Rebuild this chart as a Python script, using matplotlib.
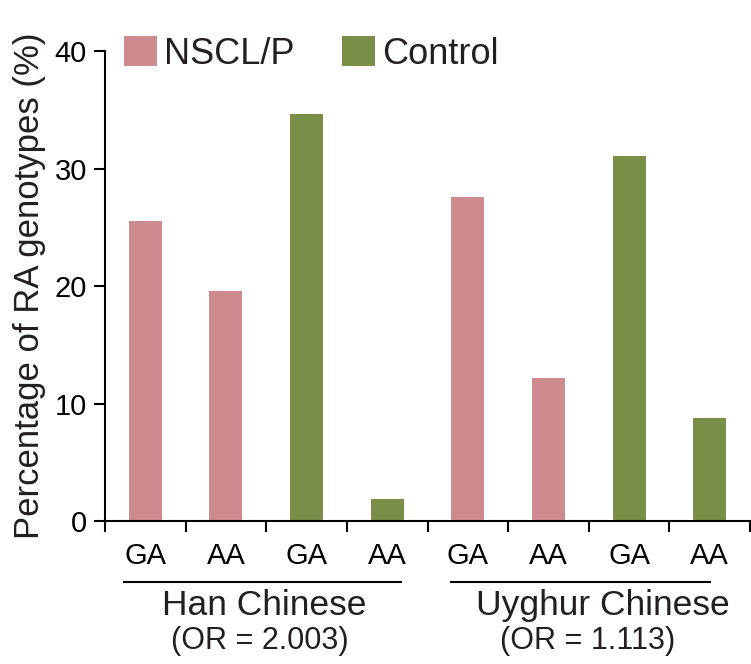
import matplotlib
matplotlib.use("Agg")
import matplotlib.pyplot as plt
from matplotlib.patches import Patch
import matplotlib.transforms as mtransforms

plt.rcParams['font.family'] = ['Liberation Sans', 'DejaVu Sans']

genotypes = ["GA", "AA", "GA", "AA", "GA", "AA", "GA", "AA"]
values = [25.5, 19.6, 34.6, 1.9, 27.6, 12.2, 31.1, 8.8]
groups = ["NSCL/P", "NSCL/P", "Control", "Control", "NSCL/P", "NSCL/P", "Control", "Control"]
populations = ["Han Chinese", "Uyghur Chinese"]
odds_ratios = ["(OR = 2.003)", "(OR = 1.113)"]

colors = {"NSCL/P": "#CD8B8F", "Control": "#798F48"}
txt = "#231f20"

fig = plt.figure(figsize=(7.51, 6.64), dpi=100)
ax = fig.add_axes([105/751, 1-521.3/664, 645/751, 470.3/664])

x = list(range(len(values)))
ax.bar(x, values, width=0.41, color=[colors[g] for g in groups], zorder=2)

ax.set_xlim(-0.5, 7.5)
ax.set_ylim(0, 40)
ax.set_yticks([0, 10, 20, 30, 40])
ax.set_xticks([i + 0.5 for i in range(-1, 8)])
ax.set_xticklabels([])
ax.set_xticks(x, minor=True)
ax.set_xticklabels(genotypes, minor=True)
ax.tick_params(axis='x', which='minor', length=0, pad=15, labelsize=21, labelcolor="black")
ax.tick_params(axis='x', which='major', length=8, width=1.5, direction='out')
ax.tick_params(axis='y', length=8, width=1.5, direction='out', pad=5, labelsize=21, labelcolor="black")
for s in ['top', 'right']:
    ax.spines[s].set_visible(False)
for s in ['left', 'bottom']:
    ax.spines[s].set_linewidth(1.5)

ax.set_ylabel("Percentage of RA genotypes (%)", fontsize=25, color=txt, labelpad=6)

trans = mtransforms.blended_transform_factory(ax.transData, ax.transAxes)
line_spans = [(-0.26, 3.17), (3.79, 7.0)]
label_x = [1.47, 5.67]
or_x = [1.42, 5.49]
for (x0, x1), lx, ox, pop, orr in zip(line_spans, label_x, or_x, populations, odds_ratios):
    ax.plot([x0, x1], [-0.129, -0.129], transform=trans, color="black", lw=1.5, clip_on=False)
    ax.text(lx, -0.143, pop, transform=trans, ha='center', va='top', fontsize=25.5, color=txt)
    ax.text(ox, -0.222, orr, transform=trans, ha='center', va='top', fontsize=22, color=txt)

handles = [Patch(facecolor=colors["NSCL/P"]), Patch(facecolor=colors["Control"])]
ax.legend(handles, ["NSCL/P", "Control"], ncol=2, frameon=False,
          loc='upper left', bbox_to_anchor=(0.029, 1.031), borderpad=0, borderaxespad=0,
          handlelength=0.92, handleheight=0.9, handletextpad=0.2, columnspacing=1.3,
          prop={'size': 26}, labelcolor=txt)

fig.savefig("out.png", dpi=100)
